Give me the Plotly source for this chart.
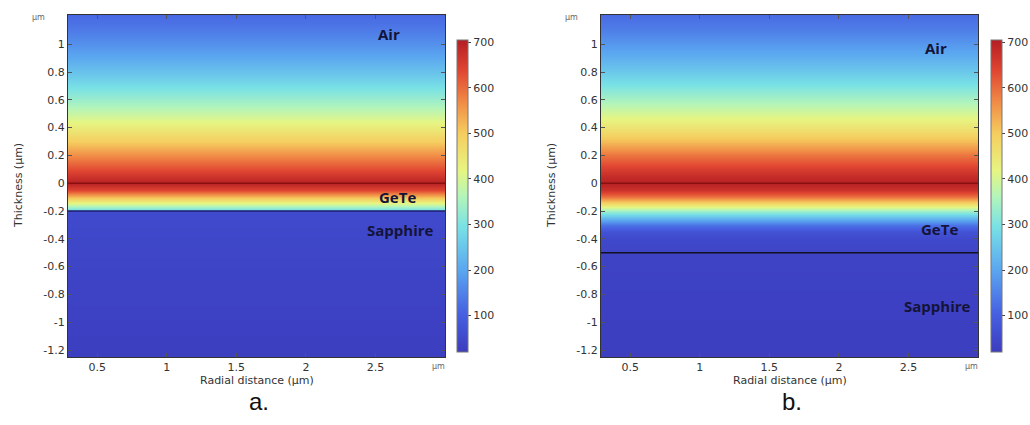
import plotly.graph_objects as go

# ---------------- data ----------------
radial_extent = [0.2, 3.1]          # heatmap columns (µm)

# Panel a: thin GeTe layer (0 to -0.2 µm)
depth_a = [1.3, 1.2, 1.1, 1.0, 0.9, 0.8, 0.7, 0.6, 0.5, 0.4, 0.3, 0.2, 0.1, 0.05, 0.0,
           -0.05, -0.1, -0.15, -0.19, -0.2, -0.3, -0.6, -1.0, -1.3]
temp_a = [95, 115, 140, 170, 205, 245, 290, 335, 385, 440, 500, 565, 630, 665, 700,
          640, 520, 400, 290, 55, 50, 40, 30, 25]

# Panel b: thick GeTe layer (0 to -0.5 µm)
depth_b = [1.3, 1.2, 1.1, 1.0, 0.9, 0.8, 0.7, 0.6, 0.5, 0.4, 0.3, 0.2, 0.1, 0.05, 0.0,
           -0.05, -0.1, -0.15, -0.2, -0.25, -0.3, -0.35, -0.4, -0.49, -0.5, -0.8, -1.3]
temp_b = [100, 120, 145, 180, 215, 255, 300, 350, 400, 455, 520, 590, 650, 680, 700,
          670, 590, 470, 340, 230, 130, 70, 50, 40, 35, 30, 25]

gete_bottom = [-0.2, -0.5]
layer_labels_a = [("Air", 2.6, 1.07), ("GeTe", 2.66, -0.10), ("Sapphire", 2.68, -0.34)]
layer_labels_b = [("Air", 2.7, 0.97), ("GeTe", 2.72, -0.33), ("Sapphire", 2.71, -0.885)]

y_ticks = [1, 0.8, 0.6, 0.4, 0.2, 0, -0.2, -0.4, -0.6, -0.8, -1, -1.2]
x_ticks = [0.5, 1, 1.5, 2, 2.5]
cbar_ticks = [100, 200, 300, 400, 500, 600, 700]
zmin, zmax = 20, 705

colorscale = [
    [0.0, "rgb(60,60,190)"], [0.12, "rgb(70,95,225)"], [0.26, "rgb(90,165,240)"],
    [0.4, "rgb(120,225,230)"], [0.5, "rgb(180,245,185)"], [0.58, "rgb(230,245,130)"],
    [0.7, "rgb(245,205,95)"], [0.8, "rgb(240,140,70)"], [0.9, "rgb(225,70,50)"],
    [1.0, "rgb(180,30,35)"],
]

W, H = 1030, 425
def px(x): return x / W
def py(y): return 1 - y / H

font_fam = "DejaVu Sans"
fig = go.Figure()

panels = [
    dict(x0=68, x1=445, cb=457, depth=depth_a, temp=temp_a, labels=layer_labels_a,
         line_col="#1d1d70", letter="a.", xa="x", ya="y"),
    dict(x0=601, x1=978, cb=991, depth=depth_b, temp=temp_b, labels=layer_labels_b,
         line_col="#111122", letter="b.", xa="x2", ya="y2"),
]

def note(text, x, y, size, color, family=font_fam, angle=0):
    return dict(text=text, x=px(x), y=py(y), xref="paper", yref="paper", xanchor="center",
                yanchor="middle", showarrow=False, textangle=angle,
                font=dict(family=family, size=size, color=color))

shapes, annotations = [], []
for i, p in enumerate(panels):
    z = [[t, t] for t in p["temp"]]
    fig.add_trace(go.Heatmap(
        x=radial_extent, y=p["depth"], z=z, zsmooth="best",
        colorscale=colorscale, zmin=zmin, zmax=zmax, xaxis=p["xa"], yaxis=p["ya"],
        colorbar=dict(x=px(p["cb"]), xanchor="left", thickness=11, len=312 / H,
                      lenmode="fraction", y=py(196), yanchor="middle",
                      tickvals=cbar_ticks, ticks="outside", ticklen=3,
                      tickfont=dict(family=font_fam, size=11, color="#333"),
                      outlinewidth=1, outlinecolor="#777", xpad=0, ypad=0),
        hoverinfo="skip",
    ))
    suffix = "" if i == 0 else "2"
    xref, yref = "x" + suffix, "y" + suffix
    # layer boundaries
    shapes.append(dict(type="line", xref=xref + " domain", yref=yref, x0=0, x1=1, y0=0, y1=0,
                       line=dict(color="#8a1010", width=1.5)))
    shapes.append(dict(type="line", xref=xref + " domain", yref=yref, x0=0, x1=1,
                       y0=gete_bottom[i], y1=gete_bottom[i],
                       line=dict(color=p["line_col"], width=1.3)))
    for txt, lx, ly in p["labels"]:
        annotations.append(dict(text="<b>" + txt + "</b>", x=lx, y=ly, xref=xref, yref=yref,
                                xanchor="center", yanchor="middle", showarrow=False,
                                font=dict(family="Open Sans", size=15, color="#14143a")))
    cx = (p["x0"] + p["x1"]) / 2
    annotations.append(note("Radial distance (µm)", cx, 380, 11, "#333"))
    annotations.append(note("Thickness (µm)", p["x0"] - 50, 186, 11, "#333", angle=-90))
    annotations.append(note("µm", p["x0"] - 30, 17, 8, "#666"))
    annotations.append(note("µm", p["x1"] - 7, 366, 8, "#666"))
    annotations.append(note(p["letter"], cx + 2, 401, 24, "#111", family="Liberation Sans"))

axis_common = dict(showline=True, linecolor="#333", linewidth=1, mirror="ticks", ticks="inside",
                   ticklen=4, tickcolor="#555", showgrid=False, zeroline=False,
                   tickfont=dict(family=font_fam, size=11, color="#333"))

layout_axes = {}
for i, p in enumerate(panels):
    s = "" if i == 0 else "2"
    layout_axes["xaxis" + s] = dict(axis_common, domain=[px(p["x0"]), px(p["x1"])],
                                    range=[0.29, 3.0], tickvals=x_ticks,
                                    anchor="y" + s)
    layout_axes["yaxis" + s] = dict(axis_common, domain=[py(357), py(15)],
                                    range=[-1.25, 1.21], tickvals=y_ticks,
                                    ticktext=[("%g" % v) for v in y_ticks], anchor="x" + s)

fig.update_layout(
    width=W, height=H, margin=dict(l=0, r=0, t=0, b=0, autoexpand=False),
    paper_bgcolor="white", plot_bgcolor="white",
    shapes=shapes, annotations=annotations, **layout_axes,
)
fig.write_html("out.html", config={"displayModeBar": False},
               post_script="document.body.style.margin='0';document.body.style.overflow='hidden';")
